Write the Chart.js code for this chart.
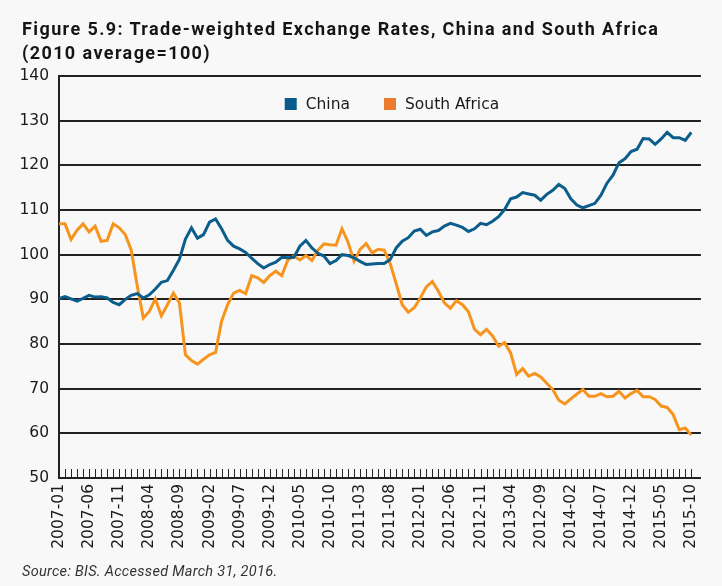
<!DOCTYPE html>
<html lang="en">
<head>
<meta charset="UTF-8">
<title>Trade-weighted Exchange Rates, China and South Africa</title>
<script src="https://cdn.jsdelivr.net/npm/chart.js@4"></script>
<style>
  body { margin: 0; background: #f8f8f8; }
  .wrap { position: relative; width: 722px; height: 586px; overflow: hidden; }
  .title {
    position: absolute; left: 22px; top: 17px;
    font: bold 18px Roboto, sans-serif; line-height: 24px; color: #151515;
    letter-spacing: 1.4px; white-space: nowrap;
  }
  .source {
    position: absolute; left: 22px; top: 564px;
    font: italic 14.5px Roboto, sans-serif; line-height: 16px; color: #333;
    letter-spacing: 0.3px;
  }
  canvas { position: absolute; left: 0; top: 0; }
</style>
</head>
<body>
<div class="wrap">
  <canvas id="rates" width="722" height="586"></canvas>
  <div class="title">Figure 5.9: Trade-weighted Exchange Rates, China and South Africa<br>(2010 average=100)</div>
  <div class="source">Source: BIS. Accessed March 31, 2016.</div>
</div>

<script>
// monthly observations, 2007-01 .. 2015-10
const months = [];
for (let y = 2007; y <= 2015; y++) {
  for (let m = 1; m <= 12; m++) {
    if (y === 2015 && m > 10) break;
    months.push(y + '-' + String(m).padStart(2, '0'));
  }
}

// axis labels as printed (every fifth month)
const tickLabels = ['2007-01', '2007-06', '2007-11', '2008-04', '2008-09', '2009-02',
  '2009-07', '2009-12', '2010-05', '2010-10', '2011-03', '2011-08', '2012-01',
  '2012-06', '2012-11', '2013-04', '2012-09', '2014-02', '2014-07', '2014-12',
  '2015-05', '2015-10'];

const china = [
  90.2, 90.6, 90.1, 89.6, 90.2, 90.9, 90.5, 90.6, 90.3, 89.3,
  88.8, 90.0, 90.9, 91.3, 90.3, 91.0, 92.3, 93.8, 94.2, 96.5,
  99.0, 103.5, 106.0, 103.7, 104.5, 107.3, 108.0, 105.8, 103.2, 101.9,
  101.3, 100.5, 99.2, 98.0, 97.0, 97.8, 98.3, 99.4, 99.3, 99.4,
  101.9, 103.2, 101.5, 100.3, 99.7, 98.0, 98.7, 100.0, 99.8, 99.3,
  98.5, 97.8, 97.9, 98.0, 98.0, 98.9, 101.5, 103.0, 103.8, 105.3,
  105.7, 104.3, 105.1, 105.4, 106.4, 107.0, 106.6, 106.1, 105.2, 105.8,
  107.0, 106.7, 107.5, 108.5, 110.1, 112.5, 112.9, 113.9, 113.6, 113.3,
  112.2, 113.5, 114.4, 115.7, 114.8, 112.5, 111.1, 110.5, 111.0, 111.5,
  113.3, 116.0, 117.8, 120.6, 121.5, 123.1, 123.6, 126.0, 125.9, 124.7,
  125.9, 127.4, 126.2, 126.2, 125.6, 127.4
];

const southAfrica = [
  106.9, 106.9, 103.4, 105.5, 106.9, 105.1, 106.4, 103.0, 103.2, 106.9,
  106.0, 104.5, 101.0, 93.0, 85.8, 87.3, 90.1, 86.3, 88.8, 91.4,
  89.2, 77.6, 76.3, 75.5, 76.6, 77.6, 78.1, 85.1, 88.8, 91.4,
  92.0, 91.3, 95.3, 94.8, 93.8, 95.3, 96.3, 95.3, 98.8, 99.7,
  98.8, 99.8, 98.7, 101.0, 102.4, 102.2, 102.1, 105.8, 102.8, 98.5,
  101.2, 102.5, 100.4, 101.2, 101.0, 98.0, 93.5, 88.8, 87.1, 88.1,
  90.3, 92.8, 94.0, 91.8, 89.2, 88.0, 89.7, 88.8, 87.2, 83.3,
  82.1, 83.3, 81.8, 79.5, 80.3, 78.0, 73.2, 74.5, 72.8, 73.4,
  72.6, 71.2, 69.8, 67.4, 66.6, 67.7, 68.8, 69.8, 68.3, 68.3,
  68.9, 68.2, 68.3, 69.4, 67.9, 68.9, 69.6, 68.2, 68.2, 67.6,
  66.1, 65.8, 64.2, 60.8, 61.2, 59.6
];

const blue = '#0b5d8c';
const orange = '#f7941d';
const axisColor = '#222';
const tickFont = { family: 'DejaVu Sans', size: 15.5 };

const toPoints = arr => arr.map((v, i) => ({ x: i, y: v }));

// small monthly ticks pointing up from the bottom axis
const monthTicks = {
  id: 'monthTicks',
  afterDatasetsDraw(chart) {
    const { ctx, chartArea, scales } = chart;
    ctx.save();
    ctx.strokeStyle = axisColor;
    ctx.lineWidth = 1;
    months.forEach((m, i) => {
      const x = Math.round(scales.x.getPixelForValue(i)) + 0.5;
      ctx.beginPath();
      ctx.moveTo(x, chartArea.bottom);
      ctx.lineTo(x, chartArea.bottom - 9);
      ctx.stroke();
    });
    ctx.restore();
  }
};

// legend drawn inside the plot, near the top
const innerLegend = {
  id: 'innerLegend',
  afterDraw(chart) {
    const { ctx, chartArea } = chart;
    const items = chart.data.datasets;
    ctx.save();
    ctx.font = '15.5px "DejaVu Sans"';
    ctx.textBaseline = 'middle';
    const box = 12, gap = 9, spacing = 34;
    let total = 0;
    items.forEach((d, i) => {
      total += box + gap + ctx.measureText(d.label).width + (i ? spacing : 0);
    });
    let x = (chartArea.left + chartArea.right) / 2 + 12 - total / 2;
    const y = chartArea.top + 28;
    items.forEach(d => {
      ctx.fillStyle = d.legendColor;
      ctx.fillRect(x, y - box / 2, box, box);
      ctx.fillStyle = '#1a1a1a';
      ctx.fillText(d.label, x + box + gap, y + 1);
      x += box + gap + ctx.measureText(d.label).width + spacing;
    });
    ctx.restore();
  }
};

new Chart(document.getElementById('rates'), {
  type: 'line',
  data: {
    datasets: [
      { label: 'China', data: toPoints(china), borderColor: blue, legendColor: '#0b5a8c',
        borderWidth: 3, pointRadius: 0, tension: 0 },
      { label: 'South Africa', data: toPoints(southAfrica), borderColor: orange, legendColor: '#eb7d2d',
        borderWidth: 3, pointRadius: 0, tension: 0 }
    ]
  },
  options: {
    responsive: false,
    animation: false,
    layout: { padding: { top: 76, left: 0, right: 19, bottom: 0 } },
    plugins: {
      legend: { display: false },
      title: { display: false },
      tooltip: { enabled: false }
    },
    scales: {
      x: {
        type: 'linear',
        min: 0,
        max: 106.6,
        afterFit(scale) { scale.height = 108; },
        grid: { display: false, drawTicks: false },
        border: { display: true, color: axisColor, width: 2 },
        ticks: {
          stepSize: 1,
          autoSkip: false,
          includeBounds: false,
          minRotation: 90,
          maxRotation: 90,
          padding: 6,
          color: '#1a1a1a',
          font: tickFont,
          callback: v => (Number.isInteger(v) && v % 5 === 0) ? tickLabels[v / 5] : ''
        }
      },
      y: {
        min: 50,
        max: 140,
        afterFit(scale) { scale.width = 59; },
        grid: { color: axisColor, lineWidth: 2, drawTicks: false },
        border: { display: true, color: axisColor, width: 2 },
        ticks: {
          stepSize: 10,
          padding: 10,
          color: '#1a1a1a',
          font: tickFont
        }
      }
    }
  },
  plugins: [monthTicks, innerLegend]
});
</script>
</body>
</html>
